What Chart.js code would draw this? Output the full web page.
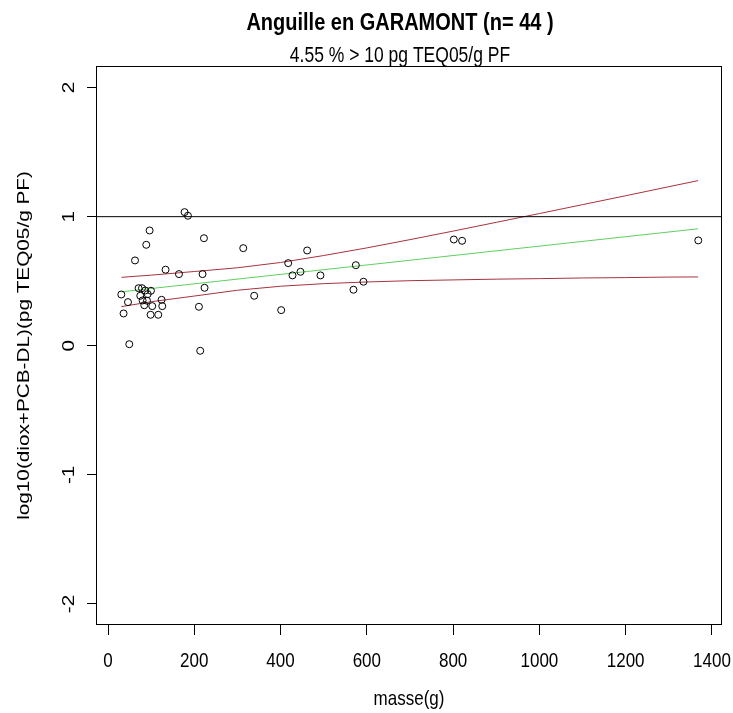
<!DOCTYPE html>
<html>
<head>
<meta charset="utf-8">
<script src="https://cdn.jsdelivr.net/npm/chart.js@4/dist/chart.umd.min.js"></script>
<style>
  html, body { margin: 0; padding: 0; background: #ffffff; }
  canvas { display: block; }
</style>
</head>
<body>
<canvas id="c" width="733" height="713"></canvas>
<script>
// Eel samples: body mass (g) and log10 of dioxin + DL-PCB level (pg TEQ05/g wet weight)
const masse = [177.5, 185.3, 96.4, 222.4, 88.7, 313.5, 62.6, 133.4, 164.5, 219.2,
               223.8, 30.8, 70.9, 78.8, 86.4, 99.6, 74.8, 80.2, 90.4, 124.2,
               46.3, 84.1, 102.6, 125.8, 36.1, 98.7, 116.5, 210.8, 49.3, 213.8,
               461.7, 417.7, 427.7, 446.2, 492.5, 574.5, 592.2, 569.0, 338.9, 401.5,
               801.6, 820.8, 1368.3, 92.0];
const logTeq = [1.035, 1.007, 0.893, 0.833, 0.782, 0.756, 0.661, 0.589, 0.555, 0.555,
                0.449, 0.397, 0.446, 0.446, 0.428, 0.426, 0.387, 0.351, 0.349, 0.356,
                0.338, 0.314, 0.307, 0.307, 0.250, 0.240, 0.240, 0.302, 0.012, -0.039,
                0.738, 0.640, 0.545, 0.573, 0.545, 0.624, 0.496, 0.434, 0.387, 0.276,
                0.823, 0.813, 0.816, 0.400];

// Linear fit (green) and its confidence band (red)
const fitX = [31, 1368];
const fitY = [0.418, 0.906];
const bandX = [31, 100, 200, 300, 400, 500, 600, 700, 800, 900, 1000, 1100, 1200, 1300, 1368];
const bandUpper = [0.530, 0.547, 0.575, 0.604, 0.645, 0.699, 0.758, 0.822, 0.888, 0.956, 1.024, 1.093, 1.162, 1.232, 1.279];
const bandLower = [0.303, 0.341, 0.385, 0.430, 0.461, 0.481, 0.494, 0.504, 0.510, 0.516, 0.520, 0.525, 0.528, 0.532, 0.533];

// Threshold: log10(10 pg TEQ05/g)
const seuil = 1;

const xTicks = [0, 200, 400, 600, 800, 1000, 1200, 1400];
const yTicks = [-2, -1, 0, 1, 2];
const xLimits = [-25.5, 1421];
const yLimits = [-2.163, 2.167];

const titre = 'Anguille en GARAMONT (n= 44 )';
const sousTitre = '4.55 % > 10 pg TEQ05/g PF';
const titreX = 'masse(g)';
const titreY = 'log10(diox+PCB-DL)(pg TEQ05/g PF)';

const FONT = '"Liberation Sans", Arial, sans-serif';
const ROUGE = '#a8323e';
const VERT = '#5fcf5f';
const TAILLE = 17;        // axis text size
const ETIRE_Y = 1.22;     // glyphs are drawn a little taller than wide
const CAP = 0.716;        // cap/digit height as a fraction of the font size

const toPoints = (xs, ys) => xs.map((x, i) => ({ x: x, y: ys[i] }));

// Draws one string centred on (x, y); rot = -PI/2 for text reading upwards
function texte(ctx, str, x, y, size, bold, rot) {
  ctx.save();
  ctx.translate(x, y);
  ctx.scale(1, ETIRE_Y);
  if (rot) ctx.rotate(rot);
  ctx.font = (bold ? 'bold ' : '') + size + 'px ' + FONT;
  ctx.fillStyle = '#000';
  ctx.textAlign = 'center';
  ctx.textBaseline = 'alphabetic';
  ctx.fillText(str, 0, size * CAP / 2);
  ctx.restore();
}

// Frame around the plotting region
const cadre = {
  id: 'cadre',
  afterDatasetsDraw(chart) {
    const a = chart.chartArea;
    const ctx = chart.ctx;
    ctx.save();
    ctx.strokeStyle = '#000';
    ctx.lineWidth = 1;
    ctx.strokeRect(Math.round(a.left) - 0.5, Math.round(a.top) + 0.5,
                   Math.round(a.right - a.left) + 1, Math.round(a.bottom - a.top) - 1);
    ctx.restore();
  }
};

// Titles and tick labels
const textes = {
  id: 'textes',
  afterDraw(chart) {
    const ctx = chart.ctx;
    const sx = chart.scales.x;
    const sy = chart.scales.y;
    texte(ctx, titre, 400, 21, 20, true, 0);
    texte(ctx, sousTitre, 400, 54.5, 17.5, false, 0);
    xTicks.forEach(v => texte(ctx, String(v), sx.getPixelForValue(v), 660, TAILLE, false, 0));
    yTicks.forEach(v => texte(ctx, String(v), 68, sy.getPixelForValue(v), TAILLE, false, -Math.PI / 2));
    texte(ctx, titreX, (chart.chartArea.left + chart.chartArea.right) / 2, 698, TAILLE, false, 0);
    texte(ctx, titreY, 23, (chart.chartArea.top + chart.chartArea.bottom) / 2, TAILLE, false, -Math.PI / 2);
  }
};

new Chart(document.getElementById('c'), {
  type: 'scatter',
  data: {
    datasets: [
      {
        label: 'échantillons',
        data: toPoints(masse, logTeq),
        pointStyle: 'circle',
        pointRadius: 3.5,
        pointBorderWidth: 1,
        borderColor: '#000',
        backgroundColor: 'rgba(0,0,0,0)',
        showLine: false,
        order: 1
      },
      {
        label: 'seuil',
        data: toPoints(xLimits, [seuil, seuil]),
        showLine: true,
        borderColor: '#000',
        borderWidth: 1,
        pointRadius: 0,
        order: 2
      },
      {
        label: 'IC haut',
        data: toPoints(bandX, bandUpper),
        showLine: true,
        borderColor: ROUGE,
        borderWidth: 1,
        pointRadius: 0,
        order: 3
      },
      {
        label: 'IC bas',
        data: toPoints(bandX, bandLower),
        showLine: true,
        borderColor: ROUGE,
        borderWidth: 1,
        pointRadius: 0,
        order: 3
      },
      {
        label: 'régression',
        data: toPoints(fitX, fitY),
        showLine: true,
        borderColor: VERT,
        borderWidth: 1,
        pointRadius: 0,
        order: 3
      }
    ]
  },
  options: {
    responsive: false,
    animation: false,
    devicePixelRatio: 1,
    layout: { padding: { left: 0, top: 66, right: 12, bottom: 3 } },
    plugins: {
      legend: { display: false },
      tooltip: { enabled: false }
    },
    elements: { line: { tension: 0 } },
    scales: {
      x: {
        type: 'linear',
        min: xLimits[0],
        max: xLimits[1],
        afterBuildTicks: s => { s.ticks = xTicks.map(v => ({ value: v })); },
        afterFit: s => { s.height = 85; s.paddingLeft = 0; s.paddingRight = 0; },
        grid: { drawOnChartArea: false, drawTicks: true, tickLength: 10, color: '#000', tickColor: '#000', lineWidth: 1 },
        border: { display: false },
        ticks: { display: false, autoSkip: false }
      },
      y: {
        type: 'linear',
        min: yLimits[0],
        max: yLimits[1],
        afterBuildTicks: s => { s.ticks = yTicks.map(v => ({ value: v })); },
        afterFit: s => { s.width = 97; s.paddingTop = 0; s.paddingBottom = 0; },
        grid: { drawOnChartArea: false, drawTicks: true, tickLength: 10, color: '#000', tickColor: '#000', lineWidth: 1 },
        border: { display: false },
        ticks: { display: false, autoSkip: false }
      }
    }
  },
  plugins: [cadre, textes]
});
</script>
</body>
</html>
